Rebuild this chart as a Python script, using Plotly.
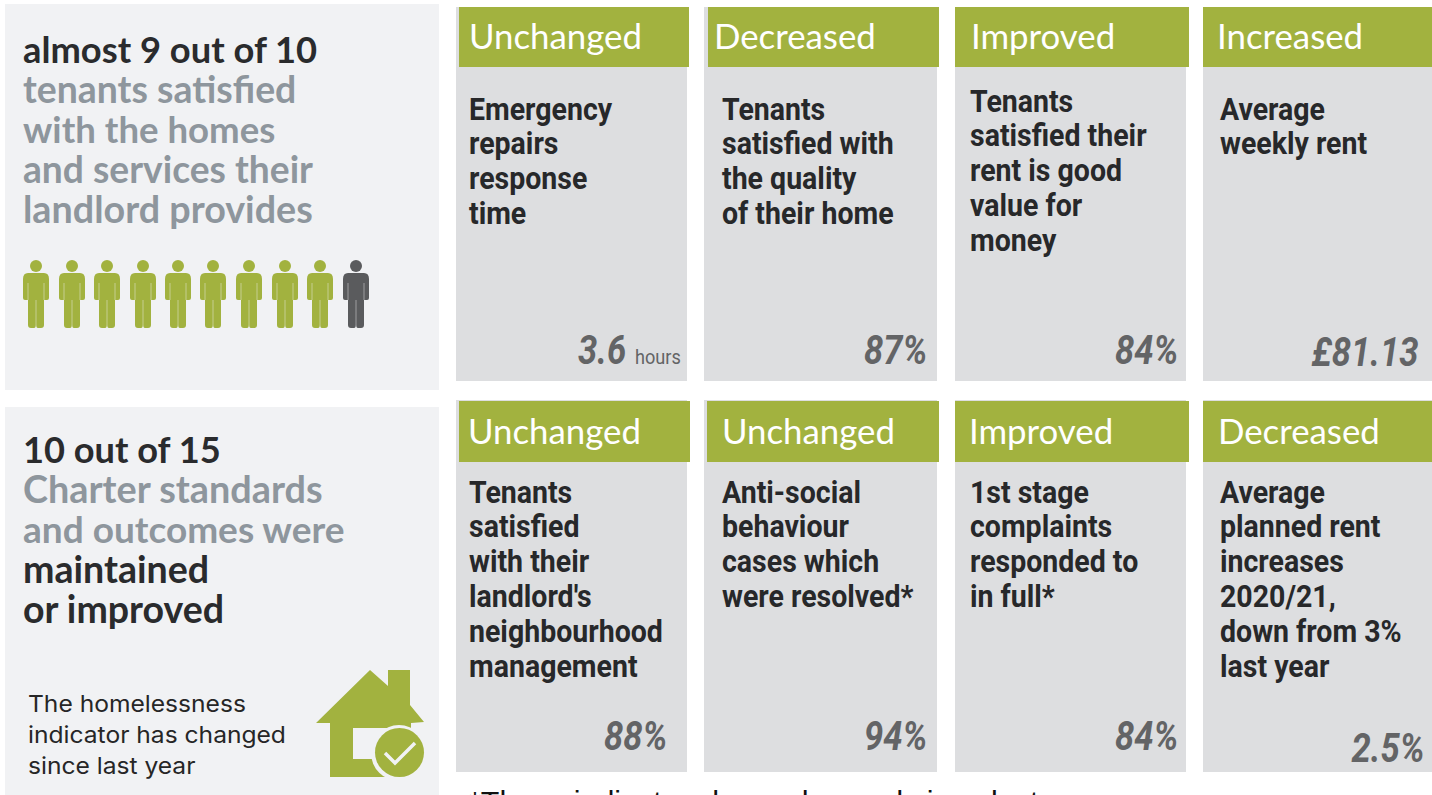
import plotly.graph_objects as go

GREEN = "#a2b23f"; PANEL = "#f1f2f4"; CARD = "#dddee0"; DARK = "#2a2b2d"; GREY = "#8e969d"; VAL = "#636466"

# --- content -------------------------------------------------------------
satisfied_people = 9
total_people = 10
statuses = [["Unchanged", "Decreased", "Improved", "Increased"],
            ["Unchanged", "Unchanged", "Improved", "Decreased"]]
measures = [
    [["Emergency", "repairs", "response", "time"],
     ["Tenants", "satisfied with", "the quality", "of their home"],
     ["Tenants", "satisfied their", "rent is good", "value for", "money"],
     ["Average", "weekly rent"]],
    [["Tenants", "satisfied", "with their", "landlord's", "neighbourhood", "management"],
     ["Anti-social", "behaviour", "cases which", "were resolved*"],
     ["1st stage", "complaints", "responded to", "in full*"],
     ["Average", "planned rent", "increases", "2020/21,", "down from 3%", "last year"]],
]
values = [["3.6", "87%", "84%", "£81.13"], ["88%", "94%", "84%", "2.5%"]]
value_units = [["hours", "", "", ""], ["", "", "", ""]]
panel_top = [("almost 9 out of 10", DARK), ("tenants satisfied", GREY), ("with the homes", GREY),
             ("and services their", GREY), ("landlord provides", GREY)]
panel_bottom = [("10 out of 15", DARK), ("Charter standards", GREY), ("and outcomes were", GREY),
                ("maintained", DARK), ("or improved", DARK)]
homeless_note = ["The homelessness", "indicator has changed", "since last year"]
footnote = "*These indicators have changed since last year"

# --- layout geometry -----------------------------------------------------
card_x = [(456, 687), (704, 937), (955, 1186), (1203, 1432)]
head_x = [[(459, 689), (708, 939), (955, 1189), (1203, 1432)],
          [(459, 690), (707, 939), (955, 1189), (1203, 1432)]]
card_y = [(7, 381), (400, 772)]
head_y = [(7, 67), (401, 462)]
head_tx = [[469, 714, 971, 1217], [468, 722, 969, 1218]]
head_ty = [35.5, 430]
body_tx = [[469, 722, 970, 1220], [469, 722, 970, 1220]]
body_y0 = [[109, 109, 101, 109], [492, 492, 492, 492]]
val_rx = [[681, 927, 1178, 1418], [667, 927, 1178, 1424]]
val_y = [[350, 350, 350, 352], [736, 736, 736, 748]]
person_cx = [36, 72, 107, 143, 178, 213, 249, 285, 320, 356]
panel_top_size = [36.3, 37.4, 36.6, 37.2, 37.7]
panel_bottom_size = [36.2, 37.8, 37, 37.6, 37.5]

shapes, ann = [], []
def rect(x0, y0, x1, y1, c):
    shapes.append(dict(type="rect", x0=x0, x1=x1, y0=y0, y1=y1, fillcolor=c, line_width=0, layer="above"))
def text(x, y, s, size, color, family, anchor="left", ya="middle"):
    ann.append(dict(x=x, y=y, text=s, showarrow=False, xanchor=anchor, yanchor=ya, align=anchor,
                    font=dict(size=size, color=color, family=family), xref="x", yref="y",
                    borderpad=0, borderwidth=0))

rect(5, 4, 439, 390, PANEL)
rect(5, 407, 439, 795, PANEL)
for i, (s, c) in enumerate(panel_top):
    text(23, 48.5 + 40 * i, f"<b>{s}</b>", panel_top_size[i], c, "Lato")
for i, (s, c) in enumerate(panel_bottom):
    text(23, 448.5 + 40 * i, f"<b>{s}</b>", panel_bottom_size[i], c, "Lato")
for i, s in enumerate(homeless_note):
    text(28, 704 + 31 * i, s, 23, "#262626", "Inter")

for k in range(total_people):
    cx = person_cx[k]
    col = GREEN if k < satisfied_people else "#5a5b5d"
    shapes.append(dict(type="circle", x0=cx - 6, x1=cx + 6, y0=260, y1=272, fillcolor=col, line_width=0, layer="above"))
    p = (f"M{cx-8},273 L{cx+8},273 Q{cx+13},273 {cx+13},279 L{cx+13},298 Q{cx+13},300 {cx+11},300 "
         f"L{cx+8},300 L{cx+8},325 Q{cx+8},328 {cx+5},328 L{cx+2},328 Q{cx},328 {cx},325 "
         f"Q{cx},328 {cx-2},328 L{cx-5},328 Q{cx-8},328 {cx-8},325 L{cx-8},300 L{cx-11},300 "
         f"Q{cx-13},300 {cx-13},298 L{cx-13},279 Q{cx-13},273 {cx-8},273 Z")
    shapes.append(dict(type="path", path=p, fillcolor=col, line_width=0, layer="above"))
    shapes.append(dict(type="path", layer="above", opacity=0.45, line=dict(color=PANEL, width=1),
                       path=f"M{cx},300 L{cx},328 M{cx-8},283 L{cx-8},300 M{cx+8},283 L{cx+8},300"))

# house icon
shapes.append(dict(type="path", layer="above", fillcolor=GREEN, line_width=0,
    path="M370,670 L388,686 L388,670 L410,670 L410,705 L424,722 L411,723 L411,777 L330,777 L330,723 L316,723 Z"))
shapes.append(dict(type="path", layer="above", fillcolor=PANEL, line_width=0,
    path="M353,728 L400,728 L400,759 L353,759 Z"))
shapes.append(dict(type="circle", layer="above", x0=371, x1=427, y0=725, y1=781, fillcolor=PANEL, line_width=0))
shapes.append(dict(type="circle", layer="above", x0=375, x1=424, y0=728, y1=777, fillcolor=GREEN, line_width=0))
shapes.append(dict(type="path", layer="above", line=dict(color=PANEL, width=3.5),
    path="M385,753 L395,763 L415,743"))

for r in range(2):
    for c in range(4):
        rect(card_x[c][0], card_y[r][0], card_x[c][1], card_y[r][1], CARD)
        rect(head_x[r][c][0], head_y[r][0], head_x[r][c][1], head_y[r][1], GREEN)
        text(head_tx[r][c], head_ty[r], statuses[r][c], 34.8, "#ffffff", "Lato")
        for i, s in enumerate(measures[r][c]):
            text(body_tx[r][c], body_y0[r][c] + 34.8 * i, f"<b>{s}</b>", 31, "#27282a", "Roboto")
        lab = f"<b><i>{values[r][c]}</i></b>"
        if value_units[r][c]:
            lab += f" <span style='font-size:21px'>{value_units[r][c]}</span>"
        text(val_rx[r][c], val_y[r][c], lab, 40, VAL, "Roboto", anchor="right")
text(469, 784, footnote, 30.4, "#111111", "Liberation Sans", ya="top")

fig = go.Figure()
fig.update_layout(width=1432, height=795, margin=dict(l=0, r=0, t=0, b=0), autosize=False,
    paper_bgcolor="#ffffff", plot_bgcolor="#ffffff", showlegend=False, shapes=shapes, annotations=ann,
    xaxis=dict(range=[0, 1432], visible=False, fixedrange=True),
    yaxis=dict(range=[795, 0], visible=False, fixedrange=True))

# Roboto Condensed is not installed: condense the real text horizontally, keeping its anchor side.
squeeze = """
document.body.style.margin='0';document.body.style.overflow='hidden';
document.querySelectorAll('.annotation-text').forEach(function(t){
  var fam=t.style.fontFamily||'', s=1, right=!!t.querySelector('tspan[style*="italic"]');
  if(fam.indexOf('Roboto')>=0) s=right?0.865:0.92;
  if(fam.indexOf('Inter')>=0) s=1.07;
  if(s===1) return;
  var b=t.getBBox();
  var px=right?b.x+b.width:b.x;
  t.setAttribute('transform','translate('+px+',0) scale('+s+',1) translate('+(-px)+',0)');
});
"""
fig.write_html("out.html", config=dict(displayModeBar=False), post_script=squeeze)
